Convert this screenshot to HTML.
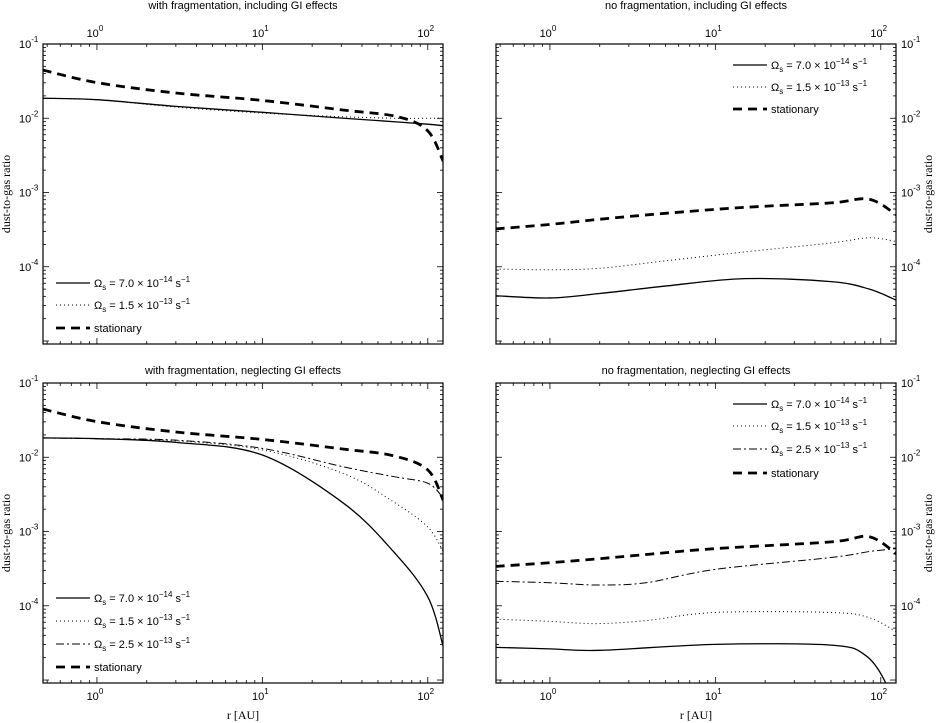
<!DOCTYPE html>
<html><head><meta charset="utf-8">
<style>
body{margin:0;background:#fff;}
svg{display:block;font-family:"Liberation Sans",sans-serif;}
.t{font-size:11px;}
.s{font-family:"Liberation Serif",serif;font-size:12px;}
</style></head>
<body>
<svg id="c" width="940" height="723" xmlns="http://www.w3.org/2000/svg"></svg>
<script>
// x positions (AU) and log10 dust-to-gas values
const tlX=[0.47,1,3,10,31,66,100,124];
const tlStat=[-1.35,-1.52,-1.66,-1.76,-1.89,-1.98,-2.17,-2.58];
const tlSolid=[-1.73,-1.75,-1.84,-1.92,-2.0,-2.05,-2.08,-2.1];
const tlDot=[-1.73,-1.75,-1.85,-1.93,-1.98,-2.0,-2.0,-2.0];
const trX=[0.47,1,2,5,15,50,85,124];
const trStat=[-3.49,-3.43,-3.36,-3.28,-3.2,-3.14,-3.09,-3.3];
const trDot=[-4.03,-4.04,-4.02,-3.92,-3.8,-3.68,-3.61,-3.66];
const trSolid=[-4.39,-4.42,-4.36,-4.26,-4.16,-4.2,-4.3,-4.45];
const blX=[0.47,1,3,10,31,62,100,124];
const blStat=[-1.35,-1.52,-1.66,-1.76,-1.89,-1.98,-2.17,-2.58];
const blDashDot=[-1.74,-1.75,-1.77,-1.88,-2.13,-2.26,-2.35,-2.55];
const blDot=[-1.74,-1.75,-1.78,-1.9,-2.22,-2.6,-2.94,-3.27];
const blSolid=[-1.74,-1.75,-1.8,-1.97,-2.62,-3.27,-3.88,-4.55];
const brX=[0.47,1,1.9,3.8,10,50,85,124];
const brStat=[-3.47,-3.42,-3.37,-3.31,-3.23,-3.14,-3.07,-3.3];
const brDashDot=[-3.67,-3.69,-3.72,-3.69,-3.51,-3.35,-3.27,-3.23];
const brDot=[-4.18,-4.21,-4.24,-4.2,-4.09,-4.09,-4.16,-4.35];
const brX2=[0.47,1,2,10,50,80,105,112];
const brSolid=[-4.56,-4.58,-4.6,-4.52,-4.53,-4.66,-5.0,-5.3];
const xTicks=[1,10,100];
const xTickLabels=["0","1","2"];
const yTickLabels=["-1","-2","-3","-4"];

const svg=document.getElementById('c');
const NS="http://www.w3.org/2000/svg";
function mk(tag,attrs,parent){const e=document.createElementNS(NS,tag);for(const k in attrs)e.setAttribute(k,attrs[k]);(parent||svg).appendChild(e);return e;}
const W=400,H=300,LX0=-0.326,LX1=2.092,LY0=-5.04,LY1=-1;
function sx(p,v){return p.x+(Math.log10(v)-LX0)/(LX1-LX0)*W;}
function sy(p,lv){return p.y+(LY1-lv)/(LY1-LY0)*H;}
const styles={solid:{w:1.3,d:""},dot:{w:1,d:"1,3"},dashdot:{w:1,d:"8,3,2,3"},stat:{w:2.8,d:"9,6"}};
function line(p,xs,ys,st,name){
  const pts=xs.map((x,i)=>[sx(p,x),sy(p,ys[i])]);
  let d="M"+pts[0][0]+","+pts[0][1];
  for(let i=0;i<pts.length-1;i++){
    const p0=pts[Math.max(0,i-1)],p1=pts[i],p2=pts[i+1],p3=pts[Math.min(pts.length-1,i+2)];
    const c1=[p1[0]+(p2[0]-p0[0])/6,p1[1]+(p2[1]-p0[1])/6];
    const c2=[p2[0]-(p3[0]-p1[0])/6,p2[1]-(p3[1]-p1[1])/6];
    d+=` C${c1[0]},${c1[1]} ${c2[0]},${c2[1]} ${p2[0]},${p2[1]}`;
  }
  const e=mk('path',{d:d,fill:'none',stroke:'#000','stroke-width':styles[st].w,'stroke-dasharray':styles[st].d,'clip-path':'url(#'+p.id+')'});
  
  
}
function legend(p,x,rows){
  rows.forEach((r,i)=>{
    const y=r.y;
    const l=mk('line',{x1:x,x2:x+34,y1:y,y2:y,stroke:'#000','stroke-width':styles[r.st].w,'stroke-dasharray':styles[r.st].d});
    
    
    const t=mk('text',{x:x+38,y:y+4,class:'t'});
    
    
    if(r.st==='stat'){t.textContent='stationary';}
    else{t.innerHTML=`Ω<tspan dy="3" font-size="8">s</tspan><tspan dy="-3"> = ${r.a} × 10</tspan><tspan dy="-5" font-size="8">${r.e}</tspan><tspan dy="5"> s</tspan><tspan dy="-5" font-size="8">−1</tspan>`;}
  });
}
function panel(p){
  const defs=mk('defs',{});const cp=mk('clipPath',{id:p.id},defs);mk('rect',{x:p.x,y:p.y,width:W,height:H},cp);
  const g=mk('rect',{x:p.x,y:p.y,width:W,height:H,fill:'none',stroke:'#000','stroke-width':1.2});
  
  const tt=mk('text',{x:p.x+W/2,y:p.top?9:374,'text-anchor':'middle',class:'t'});
  tt.textContent=p.title;
  
  for(let dec=-1;dec<=2;dec++)for(let m=1;m<10;m++){
    const v=m*Math.pow(10,dec);const X=sx(p,v);if(X<p.x||X>p.x+W)continue;
    const L=m===1?6:3;
    mk('line',{x1:X,x2:X,y1:p.y,y2:p.y+L,stroke:'#000','stroke-width':0.8});
    mk('line',{x1:X,x2:X,y1:p.y+H,y2:p.y+H-L,stroke:'#000','stroke-width':0.8});
  }
  xTicks.forEach((v,i)=>{
    const X=sx(p,v);const ty=p.top?p.y-7:p.y+H+17;
    const t=mk('text',{x:X-2,y:ty,'text-anchor':'middle',class:'t'});
    t.innerHTML=`10<tspan dy="-6" font-size="8">${xTickLabels[i]}</tspan>`;
    
  });
  for(let dec=-5;dec<=-1;dec++)for(let m=1;m<10;m++){
    const lv=Math.log10(m)+dec;const Y=sy(p,lv);if(Y<p.y-0.1||Y>p.y+H)continue;
    const L=m===1?6:3;
    mk('line',{x1:p.x,x2:p.x+L,y1:Y,y2:Y,stroke:'#000','stroke-width':0.8});
    mk('line',{x1:p.x+W,x2:p.x+W-L,y1:Y,y2:Y,stroke:'#000','stroke-width':0.8});
  }
  yTickLabels.forEach((lab,i)=>{
    const Y=sy(p,-1-i);
    const t=mk('text',{x:p.left?p.x-24:p.x+W+5,y:Y+4,class:'t'});
    t.innerHTML=`10<tspan dy="-6" font-size="8">${lab}</tspan>`;
    
  });
  const yl=mk('text',{class:'s','text-anchor':'middle',transform:`translate(${p.left?10:932},${p.y+H/2}) rotate(-90)`});
  yl.textContent='dust-to-gas ratio';
  
  if(!p.top){const xl=mk('text',{x:p.x+W/2,y:719,'text-anchor':'middle',class:'s'});xl.textContent='r [AU]';
    }
}
const TL={id:'tl',x:43,y:44,top:true,left:true,title:'with fragmentation, including GI effects'};
const TR={id:'tr',x:496,y:44,top:true,left:false,title:'no fragmentation, including GI effects'};
const BL={id:'bl',x:43,y:383,top:false,left:true,title:'with fragmentation, neglecting GI effects'};
const BR={id:'br',x:496,y:383,top:false,left:false,title:'no fragmentation, neglecting GI effects'};
[TL,TR,BL,BR].forEach(panel);
line(TL,tlX,tlDot,'dot','tl-dotted-line');line(TL,tlX,tlSolid,'solid','tl-solid-line');line(TL,tlX,tlStat,'stat','tl-stationary-line');
line(TR,trX,trDot,'dot','tr-dotted-line');line(TR,trX,trSolid,'solid','tr-solid-line');line(TR,trX,trStat,'stat','tr-stationary-line');
line(BL,blX,blDot,'dot','bl-dotted-line');line(BL,blX,blSolid,'solid','bl-solid-line');line(BL,blX,blDashDot,'dashdot','bl-dashdot-line');line(BL,blX,blStat,'stat','bl-stationary-line');
line(BR,brX,brDot,'dot','br-dotted-line');line(BR,brX2,brSolid,'solid','br-solid-line');line(BR,brX,brDashDot,'dashdot','br-dashdot-line');line(BR,brX,brStat,'stat','br-stationary-line');
legend(TL,56,[{y:283,st:'solid',a:'7.0',e:'−14'},{y:305,st:'dot',a:'1.5',e:'−13'},{y:328,st:'stat'}]);
legend(TR,733,[{y:65,st:'solid',a:'7.0',e:'−14'},{y:87,st:'dot',a:'1.5',e:'−13'},{y:109,st:'stat'}]);
legend(BL,56,[{y:598,st:'solid',a:'7.0',e:'−14'},{y:621,st:'dot',a:'1.5',e:'−13'},{y:644,st:'dashdot',a:'2.5',e:'−13'},{y:667,st:'stat'}]);
legend(BR,733,[{y:404,st:'solid',a:'7.0',e:'−14'},{y:426,st:'dot',a:'1.5',e:'−13'},{y:449,st:'dashdot',a:'2.5',e:'−13'},{y:473,st:'stat'}]);
</script>
</body></html>
